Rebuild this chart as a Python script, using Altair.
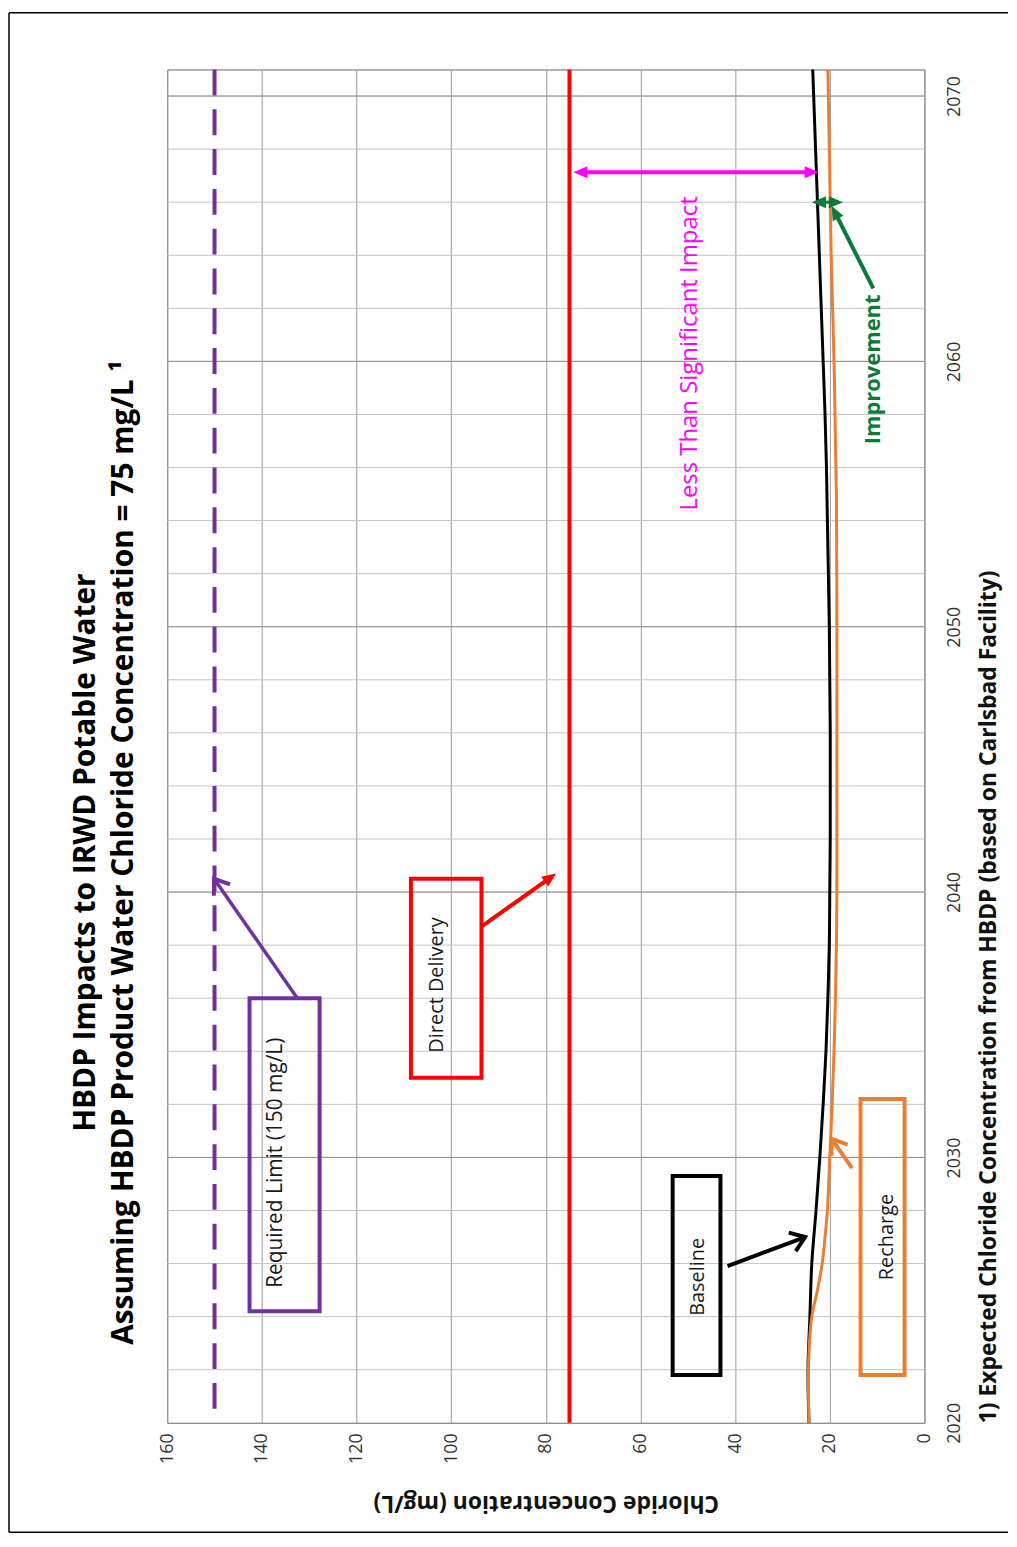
import math
import altair as alt
import pandas as pd

# ---------------- data ----------------
conc_ticks = [0, 20, 40, 60, 80, 100, 120, 140, 160]
year_labels = [2020, 2030, 2040, 2050, 2060, 2070]
minor_years = list(range(2022, 2071, 2))
major_years = [2030, 2040, 2050, 2060, 2070]

years_baseline = [2020, 2022, 2024, 2026, 2028, 2030, 2032, 2034, 2036, 2038, 2040, 2042, 2044,
                  2046, 2048, 2050, 2052, 2054, 2056, 2058, 2060, 2062, 2064, 2066, 2068, 2070, 2071]
baseline = [24.4, 24.6, 24.2, 23.8, 22.9, 22.1, 21.4, 20.8, 20.4, 20.1, 20.0, 19.9, 19.9,
            19.9, 20.0, 20.1, 20.3, 20.5, 20.7, 21.0, 21.4, 21.8, 22.2, 22.6, 23.0, 23.4, 23.6]

years_recharge = [2020, 2022, 2023, 2024, 2025, 2026, 2027, 2028, 2030, 2032, 2034, 2036, 2038,
                  2040, 2045, 2050, 2055, 2058, 2060, 2062, 2064, 2066, 2068, 2070, 2071]
recharge = [24.4, 24.5, 24.3, 23.8, 22.6, 21.6, 21.0, 20.5, 20.0, 19.5, 19.1, 18.8, 18.6,
            18.5, 18.5, 18.5, 18.6, 18.9, 19.1, 19.4, 19.7, 19.9, 20.1, 20.3, 20.4]

required_limit = 150
direct_delivery = 75

title_lines = ["HBDP Impacts to IRWD Potable Water",
               "Assuming HBDP Product Water Chloride Concentration = 75 mg/L \u00b9"]
x_title = "Chloride Concentration (mg/L)"
footnote = "1) Expected Chloride Concentration from HBDP (based on Carlsbad Facility)"

# annotation boxes (data units: mg/L, year)
box_colors = ["#7030A0", "#FF0000", "#000000", "#ED7D31"]
box_c1 = [142.6, 108.5, 53.2, 13.5]
box_c2 = [127.8, 93.6, 43.1, 4.2]
box_y1 = [2024.2, 2033.0, 2021.8, 2021.8]
box_y2 = [2036.0, 2040.5, 2029.3, 2032.2]

ann_text = ["Required  Limit (150 mg/L)", "Direct Delivery", "Baseline", "Recharge",
            "Less Than Significant Impact"]
ann_c = [137.1, 103.0, 47.9, 8.0, 49.6]
ann_y = [2029.8, 2036.5, 2025.5, 2027.0, 2060.3]
ann_color = ["#1a1a1a", "#1a1a1a", "#1a1a1a", "#1a1a1a", "#FF00FF"]
ann_size = [21, 20, 20, 20, 24]

improve_text = ["Improvement"]
improve_c = [10.9]
improve_y = [2059.7]

# arrows: tail -> tip, head kind
arr_color = ["#7030A0", "#FF0000", "#000000", "#ED7D31", "#FF00FF", "#0E7A3A", "#0E7A3A"]
arr_c1 = [132.5, 93.6, 41.6, 15.3, 22.3, 10.8, 17.2]
arr_y1 = [2036.0, 2038.7, 2025.9, 2029.6, 2067.13, 2062.75, 2066.0]
arr_c2 = [150.1, 77.8, 25.2, 19.6, 74.2, 19.6, 23.8]
arr_y2 = [2040.5, 2040.7, 2027.0, 2030.7, 2067.13, 2065.86, 2066.0]
arr_head = ["open", "filled", "open", "open", "filled2", "filled", "filled2"]
arr_width = [3.5, 4, 4, 4, 4, 4, 3]

# ---------------- layout helpers ----------------
W, H = 761, 1360
XDOM = [0, 160]
YDOM = [2020, 2071]
PXC = W / (XDOM[1] - XDOM[0])
PXY = H / (YDOM[1] - YDOM[0])


def ang(c_tail, y_tail, c_tip, y_tip):
    dx = -(c_tip - c_tail) * PXC
    dy = -(y_tip - y_tail) * PXY
    return math.degrees(math.atan2(dx, -dy)) % 360


def shorten(c_tail, y_tail, c_tip, y_tip, px):
    dx = -(c_tip - c_tail) * PXC
    dy = -(y_tip - y_tail) * PXY
    L = math.hypot(dx, dy)
    f = max(0.0, (L - px) / L)
    return c_tail + (c_tip - c_tail) * f, y_tail + (y_tip - y_tail) * f


seg_rows, head_rows = [], []
for i in range(len(arr_color)):
    c1, y1, c2, y2 = arr_c1[i], arr_y1[i], arr_c2[i], arr_y2[i]
    kind = arr_head[i]
    if kind == "open":
        e = (c2, y2)
        s = (c1, y1)
        head_rows.append(dict(c=c2, yr=y2, ang=ang(c1, y1, c2, y2), col=arr_color[i], kind="open"))
    elif kind == "filled":
        s = (c1, y1)
        e = shorten(c1, y1, c2, y2, 8)
        head_rows.append(dict(c=c2, yr=y2, ang=ang(c1, y1, c2, y2), col=arr_color[i], kind="filled"))
    else:
        s = shorten(c2, y2, c1, y1, 8)
        e = shorten(c1, y1, c2, y2, 8)
        head_rows.append(dict(c=c2, yr=y2, ang=ang(c1, y1, c2, y2), col=arr_color[i], kind="filled"))
        head_rows.append(dict(c=c1, yr=y1, ang=ang(c2, y2, c1, y1), col=arr_color[i], kind="filled"))
    seg_rows.append(dict(c1=s[0], y1=s[1], c2=e[0], y2=e[1], col=arr_color[i], w=arr_width[i]))

seg_df = pd.DataFrame(seg_rows)
head_df = pd.DataFrame(head_rows)

lines_df = pd.concat([
    pd.DataFrame({"yr": years_baseline, "c": baseline, "series": "Baseline", "col": "#000000"}),
    pd.DataFrame({"yr": years_recharge, "c": recharge, "series": "Recharge", "col": "#ED7D31"}),
])

box_df = pd.DataFrame({"c1": box_c1, "c2": box_c2, "y1": box_y1, "y2": box_y2, "col": box_colors})
ann_df = pd.DataFrame({"t": ann_text, "c": ann_c, "yr": ann_y, "col": ann_color, "fs": ann_size})
imp_df = pd.DataFrame({"t": improve_text, "c": improve_c, "yr": improve_y})

xs = alt.Scale(domain=XDOM, reverse=True, nice=False, zero=False)
ys = alt.Scale(domain=YDOM, nice=False, zero=False)

x_axis = alt.Axis(values=conc_ticks, grid=True, gridColor="#9a9a9a", gridWidth=1,
                  ticks=False, domain=False, labelAngle=270, labelAlign="right",
                  labelBaseline="middle", labelPadding=10, labelFontSize=18,
                  labelFont="Open Sans", labelColor="#333333",
                  title=x_title, titleAngle=180, titleX=W / 2, titleY=80,
                  titleAlign="center", titleBaseline="middle", titleFont="Open Sans",
                  titleFontSize=23, titleFontWeight="bold", titleColor="#111111")
y_axis = alt.Axis(values=year_labels, grid=False, ticks=False, domain=False, orient="right",
                  format="d", labelAngle=270, labelAlign="center", labelBaseline="middle",
                  labelPadding=30, labelFontSize=18, labelFont="Open Sans",
                  labelColor="#333333",
                  title=footnote, titleAngle=270, titleX=64, titleY=H, titleAlign="left",
                  titleBaseline="middle", titleFont="Open Sans", titleFontSize=23,
                  titleFontWeight="bold", titleColor="#111111")


def X(f="c"):
    return alt.X(f"{f}:Q", scale=xs, axis=x_axis)


def Y(f="yr"):
    return alt.Y(f"{f}:Q", scale=ys, axis=y_axis)


one = pd.DataFrame({"k": [0]})

# outer frame of the figure (left, top, bottom edges)
frame_style = dict(color="#000000", strokeWidth=1.5)
frame_left = alt.Chart(one).mark_rule(**frame_style).encode(
    x=alt.value(-159), y=alt.value(-57), y2=alt.value(1470))
frame_top = alt.Chart(one).mark_rule(**frame_style).encode(
    x=alt.value(-159), x2=alt.value(845), y=alt.value(-57))
frame_bottom = alt.Chart(one).mark_rule(**frame_style).encode(
    x=alt.value(-159), x2=alt.value(845), y=alt.value(1470))

minor = alt.Chart(pd.DataFrame({"yr": minor_years})).mark_rule(
    color="#c4c4c4", strokeWidth=1).encode(y=Y())
major = alt.Chart(pd.DataFrame({"yr": major_years})).mark_rule(
    color="#8f8f8f", strokeWidth=1).encode(y=Y())

limit = alt.Chart(pd.DataFrame({"c": [required_limit]})).mark_rule(
    color="#7030A0", strokeWidth=4, strokeDash=[26, 14]).encode(x=X())
direct = alt.Chart(pd.DataFrame({"c": [direct_delivery]})).mark_rule(
    color="#FF0000", strokeWidth=4).encode(x=X())

series = alt.Chart(lines_df).mark_line(strokeWidth=3, interpolate="catmull-rom").encode(
    x=X(), y=Y(), color=alt.Color("col:N", scale=None), detail="series:N",
    order=alt.Order("yr:Q"))

boxes = alt.Chart(box_df).mark_rect(fillOpacity=0, strokeWidth=4).encode(
    x=X("c1"), x2="c2:Q", y=Y("y1"), y2="y2:Q",
    stroke=alt.Stroke("col:N", scale=None))

segs = alt.Chart(seg_df).mark_rule().encode(
    x=X("c1"), x2="c2:Q", y=Y("y1"), y2="y2:Q",
    color=alt.Color("col:N", scale=None), strokeWidth=alt.StrokeWidth("w:Q", scale=None))

tri = "M0,0L-0.55,1.3L0.55,1.3Z"
chev = "M-0.75,1.05L0,0L0.75,1.05"

heads_f = alt.Chart(head_df[head_df.kind == "filled"]).mark_point(
    shape=tri, filled=True, size=480, opacity=1).encode(
    x=X(), y=Y(), color=alt.Color("col:N", scale=None), angle=alt.Angle("ang:Q", scale=None))
heads_o = alt.Chart(head_df[head_df.kind == "open"]).mark_point(
    shape=chev, filled=False, size=700, strokeWidth=4, opacity=1).encode(
    x=X(), y=Y(), color=alt.Color("col:N", scale=None), angle=alt.Angle("ang:Q", scale=None))

ann = alt.Chart(ann_df).mark_text(angle=270, align="center", baseline="middle",
                                  font="Open Sans").encode(
    x=X(), y=Y(), text="t:N", color=alt.Color("col:N", scale=None),
    size=alt.Size("fs:Q", scale=None))
imp = alt.Chart(imp_df).mark_text(angle=270, align="center", baseline="middle",
                                  font="Open Sans", fontWeight="bold", fontSize=22,
                                  color="#0E7A3A").encode(x=X(), y=Y(), text="t:N")

title = alt.Chart(one).mark_text(text=title_lines, angle=270, align="center", baseline="middle",
                                 lineHeight=39, font="Open Sans", fontSize=30,
                                 fontWeight="bold", color="#000000").encode(
    x=alt.value(-82), y=alt.value(787))

chart = alt.layer(
    frame_left, frame_top, frame_bottom, minor, major, limit, direct, series, boxes, segs,
    heads_f, heads_o, ann, imp, title
).properties(width=W, height=H, padding=0, background="#ffffff").configure_view(
    stroke="#666666", strokeWidth=1)

chart.save("out.html", embed_options={"renderer": "svg", "actions": False})
